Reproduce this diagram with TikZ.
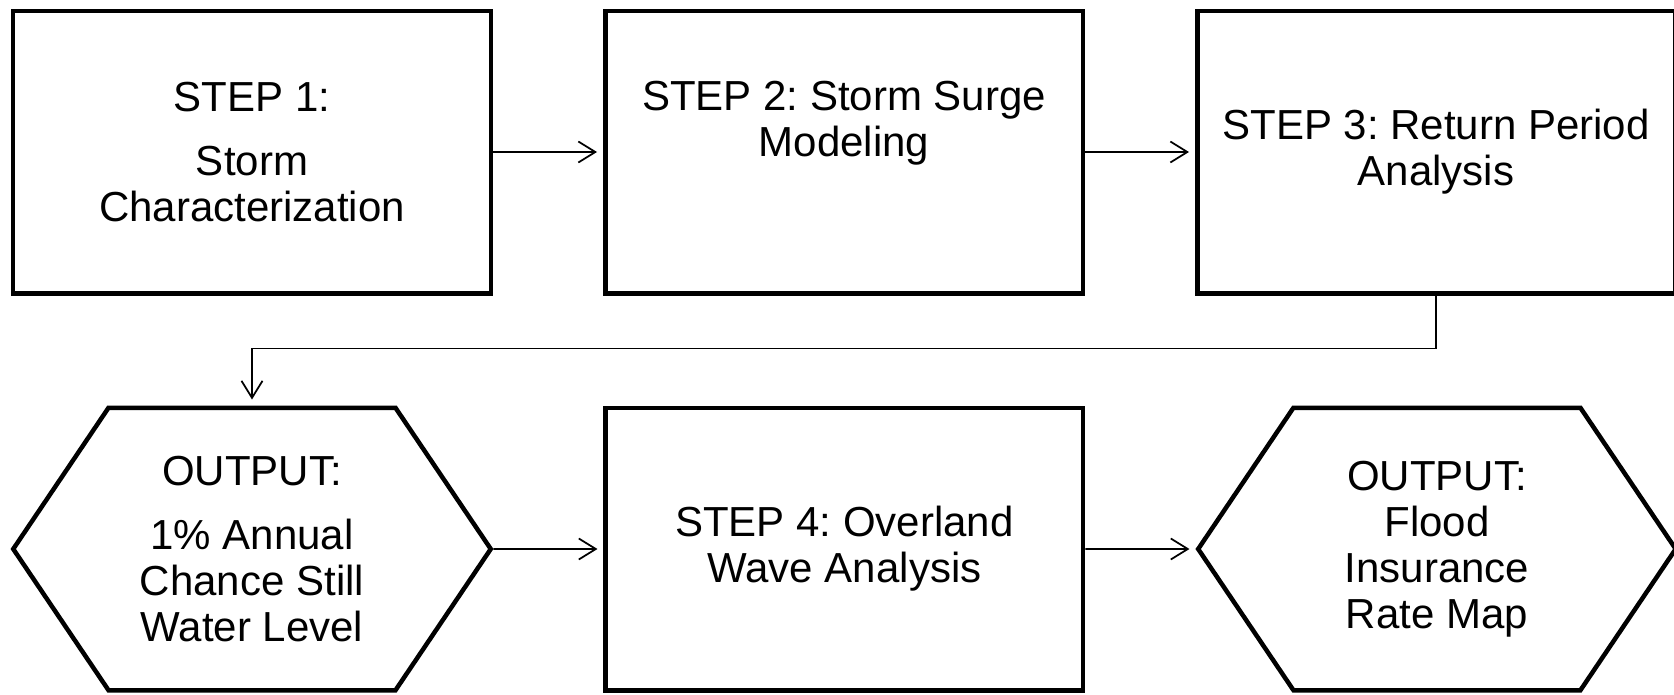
\documentclass[tikz,border=0pt]{standalone}
\usepackage{fontspec}
\setmainfont{Liberation Sans}
\usepackage{tikz}
\tikzset{
    stepbox/.style={rectangle,draw=black,line width=0.09cm,minimum width=9.55cm,minimum height=5.65cm,align=center,font=\fontsize{23.9}{26.2}\selectfont\frenchspacing},
    outhex/.style={signal,signal to=west and east,signal pointer angle=112,draw=black,line width=0.09cm,minimum width=9.55cm,minimum height=5.65cm,align=center,font=\fontsize{23.9}{26.2}\selectfont\frenchspacing},
    link/.style={line width=0.035cm},
}
\usetikzlibrary{shapes.symbols,arrows.meta}
\usetikzlibrary{positioning}

\begin{document}
\begin{tikzpicture}[>={Straight Barb[length=0.34cm,width=0.42cm]},node distance=2.2cm]
\useasboundingbox (0,0) rectangle (33.48,-13.88);
\node[stepbox] (s1) at (5.04,-3.04) {STEP 1:\\[0.36cm]Storm\\Characterization};
\node[stepbox] (s2) [right =of s1] {STEP 2: Storm Surge\\Modeling\\[0.12cm]\strut} edge [<-,link,shorten <=0.12cm] (s1);
\node[stepbox] (s3) [right =of s2] {STEP 3: Return Period\\Analysis} edge [<-,link,shorten <=0.12cm] (s2);
\node[outhex] (o1) [below =of s1] {OUTPUT:\\[0.36cm]1\% Annual\\Chance Still\\Water Level};
\node[stepbox] (s4) [right =of o1] {STEP 4: Overland\\Wave Analysis} edge [<-,link,shorten <=0.12cm] (o1);
\node[outhex] (o2) [right =of s4] {OUTPUT:\\Flood\\Insurance\\Rate Map} edge [<-,link,shorten <=0.12cm] (s4);
\draw[->,link,shorten >=0.12cm] (s3.south) -- ++(0,-1.06) -| (o1.north);
\end{tikzpicture}
\end{document}
